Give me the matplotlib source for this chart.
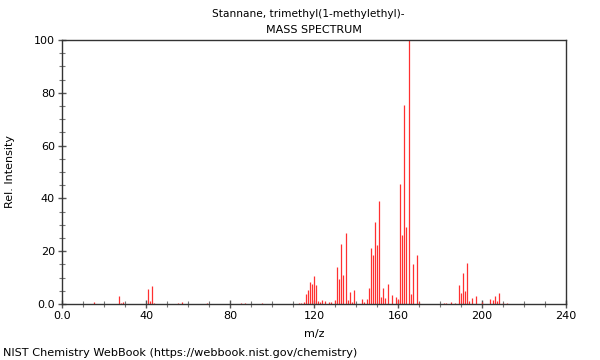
import matplotlib
matplotlib.use("Agg")
import matplotlib.pyplot as plt
from matplotlib.ticker import MultipleLocator, FixedLocator

title_name = "Stannane, trimethyl(1-methylethyl)-"
title_kind = "MASS SPECTRUM"
x_label = "m/z"
y_label = "Rel. Intensity"
footer = "NIST Chemistry WebBook (https://webbook.nist.gov/chemistry)"

mz = [15, 27, 28, 29, 41, 42, 43, 44, 55, 57, 69, 85, 87, 95,
      113, 114, 115, 116, 117, 118, 119, 120, 121, 122, 123, 124, 125, 127, 128,
      130, 131, 132, 133, 134, 135, 136, 137, 138, 139,
      143, 144, 145, 146, 147, 148, 149, 150, 151, 152, 153, 154, 155, 157, 159, 160,
      161, 162, 163, 164, 165, 166, 167, 169, 170,
      182, 183, 185, 187, 189, 190, 191, 192, 193, 194, 195, 197, 200,
      204, 205, 206, 207, 208, 210, 212]
intensity = [0.9, 3.2, 0.5, 0.9, 5.5, 1.2, 6.7, 0.4, 0.5, 0.9, 0.5, 0.4, 0.4, 0.4,
             0.4, 0.5, 0.6, 3.8, 5.3, 8.2, 7.6, 10.7, 7.3, 1.3, 0.9, 1.6, 1.3, 0.9, 0.9,
             1.5, 14.0, 9.5, 22.7, 11.0, 27.0, 1.5, 4.7, 0.9, 5.3,
             1.8, 0.9, 1.8, 5.9, 21.1, 18.5, 31.2, 22.3, 39.0, 2.8, 5.9, 2.1, 7.4, 3.4, 2.8, 1.8,
             45.3, 26.1, 75.4, 29.3, 100.0, 3.8, 15.1, 18.5, 0.9,
             0.3, 0.3, 0.6, 0.4, 7.2, 4.3, 11.9, 4.9, 15.4, 1.2, 2.1, 3.0, 0.9,
             1.8, 1.5, 3.2, 1.2, 4.3, 0.5, 0.5]

x_ticks = [0, 40, 80, 120, 160, 200, 240]
x_tick_labels = ["0.0", "40", "80", "120", "160", "200", "240"]
y_ticks = [0, 20, 40, 60, 80, 100]
y_tick_labels = ["0.0", "20", "40", "60", "80", "100"]

fig = plt.figure(figsize=(6, 3.6), dpi=100)
ax = fig.add_axes([62/600, 1-304/360, 504/600, 264/360])

ax.vlines(mz, 0, intensity, colors="#ff3030", linewidth=0.9)

ax.set_xlim(0, 240)
ax.set_ylim(0, 100)
ax.xaxis.set_major_locator(FixedLocator(x_ticks))
ax.set_xticklabels(x_tick_labels)
ax.yaxis.set_major_locator(FixedLocator(y_ticks))
ax.set_yticklabels(y_tick_labels)
ax.xaxis.set_minor_locator(MultipleLocator(10))
ax.yaxis.set_minor_locator(MultipleLocator(5))

for s in ax.spines.values():
    s.set_color("#333333")
    s.set_linewidth(1.0)
ax.tick_params(which="major", direction="inout", length=6, width=1, color="#555555",
               labelsize=8, labelcolor="black", pad=2)
ax.tick_params(which="minor", direction="inout", length=4, width=0.8, color="#777777")

ax.set_xlabel(x_label, fontsize=8, labelpad=6)
ax.set_ylabel(y_label, fontsize=8, labelpad=14)

fig.text(308/600, 1-14/360, title_name, ha="center", va="center", fontsize=7.6)
fig.text(314/600, 1-30/360, title_kind, ha="center", va="center", fontsize=8)
fig.text(3/600, 1-353/360, footer, ha="left", va="center", fontsize=8.1)

fig.savefig("out.png", dpi=100)
